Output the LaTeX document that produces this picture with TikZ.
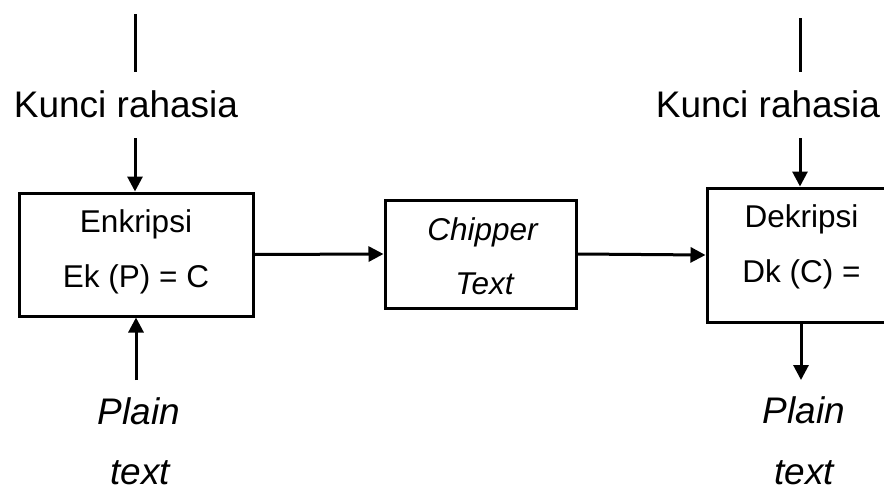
\documentclass[tikz,border=0pt]{standalone}
\usepackage{fontspec}
\setmainfont{Liberation Sans}
\usetikzlibrary{arrows.meta}
\tikzset{
  lbl/.style={font=\fontsize{37}{44}\selectfont, inner sep=0pt, anchor=base},
  boxtxt/.style={font=\fontsize{31.5}{38}\selectfont, inner sep=0pt, anchor=base},
  blk/.style={draw, line width=3pt, inner sep=0pt},
  conn/.style={line width=3pt},
  arr/.style={line width=3pt, -{Triangle[length=15pt,width=15pt]}}
}
\begin{document}
\begin{tikzpicture}[x=1pt,y=-1pt]
\clip (0,0) rectangle (884,490);
% boxes
\node[blk, minimum width=234pt, minimum height=123pt] (enc) at (136,254.5) {};
\node[blk, minimum width=191pt, minimum height=108pt] (chip) at (480.5,254) {};
\node[blk, minimum width=188pt, minimum height=134pt] (dek) at (801,255) {};
% box texts
\node[boxtxt] (encA) at (136,232) {Enkripsi};
\node[boxtxt] (encB) at (136,287) {Ek (P) = C};
\node[boxtxt] (chipA) at (482.5,240) {\itshape Chipper};
\node[boxtxt] (chipB) at (484.5,294) {\itshape Text};
\node[boxtxt] (dekA) at (801.5,227) {Dekripsi};
\node[boxtxt] (dekB) at (801.5,282) {Dk (C) =};
% outer labels
\node[lbl] (kL) at (126,117) {Kunci rahasia};
\node[lbl] (kR) at (768,117) {Kunci rahasia};
\node[lbl] (pL) at (139,424) {\itshape Plain};
\node[lbl] (tL) at (140,484) {\itshape text};
\node[lbl] (pR) at (804,423) {\itshape Plain};
\node[lbl] (tR) at (804,484) {\itshape text};
% free ends
\coordinate (lt1) at (135,14);
\coordinate (lt2) at (135,72);
\coordinate (la) at (135,138);
\coordinate (rt1) at (800,18);
\coordinate (rt2) at (800,72);
\coordinate (ra) at (800,138);
\coordinate (pLa) at (136,380);
\coordinate (pRa) at (801,380);
% connectors
\draw[conn] (lt1) -- (lt2);
\draw[conn] (rt1) -- (rt2);
\draw[arr] (la) -- (la |- enc.north);
\draw[arr] (ra) -- (ra |- dek.north);
\draw[arr] (enc.east) -- (chip.west);
\draw[arr] (chip.east) -- (dek.west);
\draw[arr] (pLa) -- (pLa |- enc.south);
\draw[arr] (dek.south) -- (pRa);
\end{tikzpicture}
\end{document}
